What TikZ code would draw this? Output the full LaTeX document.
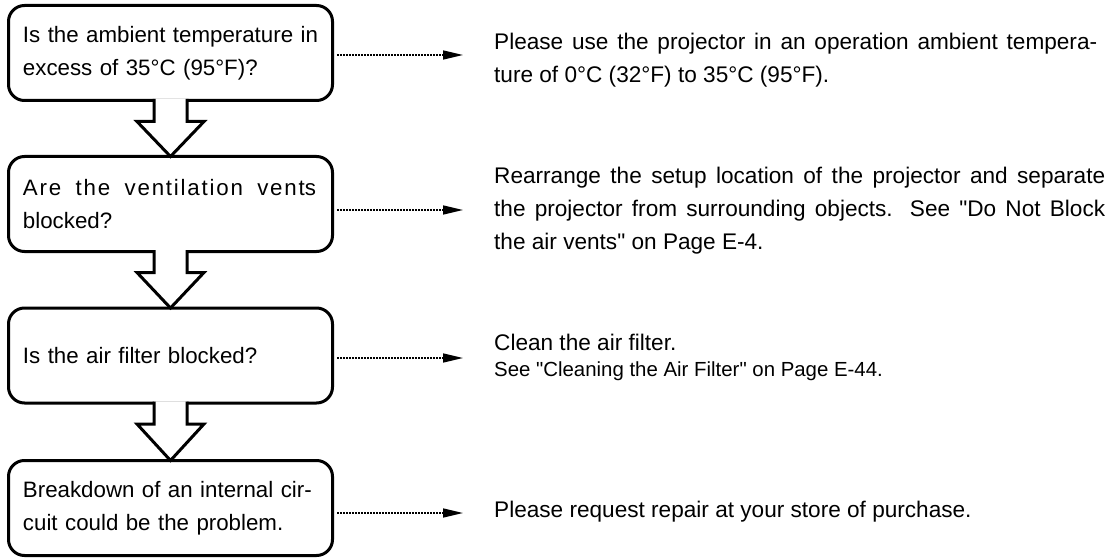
\documentclass[tikz,border=0pt]{standalone}
\usepackage{fontspec}
\setmainfont{Liberation Sans}[Ligatures=TeXOff]
\usetikzlibrary{arrows.meta}
\tikzset{
  qbox/.style={draw, line width=3pt, rounded corners=16pt, outer sep=0pt,
    minimum width=324pt, minimum height=95pt, text width=295pt, align=left,
    inner sep=0pt, font=\fontsize{22.3}{33}\selectfont},
  ans/.style={anchor=base west, inner sep=0pt, align=left,
    font=\fontsize{22.6}{33}\selectfont},
  dotarrow/.style={line width=1.6pt, dash pattern=on 1.6pt off 1.4pt,
    shorten <=4.5pt, -{Triangle[length=20pt,width=9pt]}},
  blockline/.style={line width=3pt, line join=miter},
}
\newcommand{\blockarrow}[2]{%
  \fill[white] ([xshift=-16.5pt,yshift=1.6pt]#1.south) -- ([xshift=-16.5pt,yshift=-21pt]#1.south)
     -- ([xshift=-33.5pt,yshift=-21pt]#1.south) -- (#2.north)
     -- ([xshift=33.5pt,yshift=-21pt]#1.south) -- ([xshift=16.5pt,yshift=-21pt]#1.south)
     -- ([xshift=16.5pt,yshift=1.6pt]#1.south) -- cycle;
  \draw[blockline] ([xshift=-16.5pt,yshift=1.5pt]#1.south) -- ([xshift=-16.5pt,yshift=-21pt]#1.south)
     -- ([xshift=-33.5pt,yshift=-21pt]#1.south) -- (#2.north)
     -- ([xshift=33.5pt,yshift=-21pt]#1.south) -- ([xshift=16.5pt,yshift=-21pt]#1.south)
     -- ([xshift=16.5pt,yshift=1.5pt]#1.south);
}
\begin{document}
\begin{tikzpicture}[x=1pt,y=-1pt]
\useasboundingbox (0,0) rectangle (1114,559);

\node[qbox] (b1) at (170.5,53) {Is the ambient temperature in\\excess of 35°C (95°F)?};
\node[qbox] (b2) at (170.5,204) {\hbox to 293pt{\addfontfeatures{LetterSpace=8}Are\hfill the\hfill ventilation\hfill vent\addfontfeatures{LetterSpace=0}s}\\blocked?};
\node[qbox] (b3) at (170.5,355.5) {Is the air filter blocked?};
\node[qbox] (b4) at (170.5,508) {Breakdown of an internal cir-\\cuit could be the problem.};

\blockarrow{b1}{b2}
\blockarrow{b2}{b3}
\blockarrow{b3}{b4}

\node[ans] (r1) at (494,83) {\makebox[603pt][s]{Please use the projector in an operation ambient tempera-}\\ture of 0°C (32°F) to 35°C (95°F).};
\node[ans] (r2) at (494,249) {\makebox[611pt][s]{Rearrange the setup location of the projector and separate}\\\makebox[611pt][s]{the projector from surrounding objects. See "Do Not Block}\\the air vents" on Page E-4.};
\node[ans] (r3) at (494,376) {Clean the air filter.\\[-7pt]{\fontsize{20.4}{25}\selectfont See "Cleaning the Air Filter" on Page E-44.}};
\node[ans] (r4) at (494,517) {Please request repair at your store of purchase.};

\coordinate (e1) at (463,55);
\coordinate (e2) at (463,210);
\coordinate (e3) at (463,358);
\coordinate (e4) at (463,513);
\draw[dotarrow] (b1.east |- e1) -- (e1);
\draw[dotarrow] (b2.east |- e2) -- (e2);
\draw[dotarrow] (b3.east |- e3) -- (e3);
\draw[dotarrow] (b4.east |- e4) -- (e4);
\end{tikzpicture}
\end{document}
